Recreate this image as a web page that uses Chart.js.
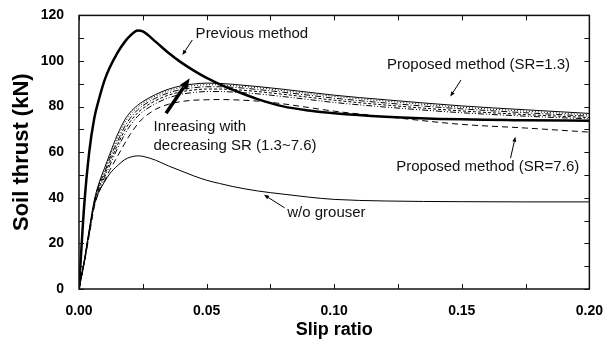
<!DOCTYPE html>
<html>
<head>
<meta charset="utf-8">
<script src="https://cdn.jsdelivr.net/npm/chart.js@4"></script>
<style>
  body { margin: 0; background: #fff; }
  canvas { display: block; }
</style>
</head>
<body>
<canvas id="chart" width="609" height="341"></canvas>
<script>
// slip ratio sample points shared by every curve
const slip = [0, 0.002, 0.004, 0.006, 0.008, 0.01, 0.012, 0.015, 0.018, 0.02, 0.023, 0.025, 0.03, 0.035,
    0.04, 0.045, 0.05, 0.055, 0.06, 0.07, 0.08, 0.09, 0.1, 0.12, 0.15, 0.175, 0.2];

// soil thrust (kN)
const previousMethod = [0, 36, 60, 75, 84, 91.5, 97, 103.5, 108.5, 111, 113.4, 113, 108.5, 103.6,
    99.4, 95.8, 92.6, 89.9, 87.5, 83.3, 80.1, 78.3, 77.1, 75.6, 74.4, 74, 73.8];
const sr13 = [0, 12, 26, 39, 47, 53, 59, 67.5, 74.3, 77.4, 80.6, 82.2, 85.3, 87.6,
    89.1, 89.9, 90.3, 90.2, 89.8, 88.8, 87.6, 86.3, 85, 83, 80.3, 78.6, 77];
const sr25 = [0, 12, 25.5, 38.5, 46.5, 52, 58, 66, 73, 76.3, 79.7, 81.4, 84.6, 86.9,
    88.4, 89.2, 89.6, 89.5, 89.2, 88.3, 87, 85.7, 84.5, 82.4, 79.7, 78, 76.4];
const sr38 = [0, 11.5, 25, 38, 46, 51, 57, 64.5, 71.4, 74.8, 78.6, 80.4, 83.7, 86,
    87.5, 88.3, 88.7, 88.7, 88.5, 87.5, 86.3, 85, 83.7, 81.6, 79, 77.3, 75.8];
const sr50 = [0, 11.5, 24.5, 37.5, 45, 50, 55.5, 63, 69.8, 73.3, 77.3, 79.2, 82.6, 85,
    86.5, 87.3, 87.7, 87.7, 87.5, 86.6, 85.4, 84.1, 82.8, 80.7, 78.1, 76.5, 75.2];
const sr63 = [0, 11, 24, 37, 44, 49, 54, 61.5, 68, 71.6, 75.8, 77.8, 81.3, 83.8,
    85.4, 86.2, 86.6, 86.6, 86.4, 85.6, 84.4, 83.1, 81.8, 79.8, 77.3, 75.8, 74.6];
const sr76 = [0, 11, 23.5, 36, 43, 47.5, 52, 58, 64, 67.7, 72.4, 74.8, 78.8, 81,
    82.2, 82.8, 83, 83.1, 83, 82.4, 81.2, 79.6, 78, 75.6, 72.2, 70.6, 68.8];
const withoutGrouser = [0, 12, 25.5, 37, 43, 47, 50.5, 54, 56.8, 57.8, 58.4, 58.2, 56.5, 54,
    51.8, 49.6, 47.7, 46.3, 45, 43, 41.6, 40.3, 39.3, 38.6, 38.3, 38.2, 38.2];

const xTicks = [0, 0.05, 0.1, 0.15, 0.2];
const yTicks = [0, 20, 40, 60, 80, 100, 120];

const FONT = '"Liberation Sans", Arial, sans-serif';

const series = (values) => slip.map((x, i) => ({ x, y: values[i] }));

const line = (label, values, width, dash) => ({
    label,
    data: series(values),
    borderColor: '#000',
    borderWidth: width,
    borderDash: dash,
    pointRadius: 0,
    fill: false,
    cubicInterpolationMode: 'monotone',
});

// labels and arrows, in data units
const notes = [
    { text: 'Previous method', x: 0.0457, y: 112.1 },
    { text: 'Proposed method (SR=1.3)', x: 0.1207, y: 98.3 },
    { text: 'Proposed method (SR=7.6)', x: 0.1243, y: 53.7 },
    { text: 'Inreasing with', x: 0.0292, y: 71.2 },
    { text: 'decreasing SR (1.3~7.6)', x: 0.0292, y: 62.9 },
    { text: 'w/o grouser', x: 0.0816, y: 33.3 },
];
const arrows = [
    { from: [0.0444, 109.2], to: [0.0405, 102.6], width: 1, head: 5 },
    { from: [0.1497, 91.7], to: [0.1455, 84.4], width: 1, head: 5 },
    { from: [0.1691, 57.4], to: [0.171, 66.8], width: 1, head: 5 },
    { from: [0.0806, 35.6], to: [0.0725, 41.3], width: 1, head: 5 },
    { from: [0.0341, 77.1], to: [0.0434, 92.4], width: 3.5, head: 11 },
];

const drawArrow = (ctx, x1, y1, x2, y2, width, head) => {
    const ang = Math.atan2(y2 - y1, x2 - x1);
    const bx = x2 - head * Math.cos(ang);
    const by = y2 - head * Math.sin(ang);
    ctx.lineWidth = width;
    ctx.beginPath();
    ctx.moveTo(x1, y1);
    ctx.lineTo(bx, by);
    ctx.stroke();
    const hw = Math.max(2, head * 0.4);
    ctx.beginPath();
    ctx.moveTo(x2, y2);
    ctx.lineTo(bx + hw * Math.sin(ang), by - hw * Math.cos(ang));
    ctx.lineTo(bx - hw * Math.sin(ang), by + hw * Math.cos(ang));
    ctx.closePath();
    ctx.fill();
};

const framePlugin = {
    id: 'frame',
    afterDatasetsDraw(chart) {
        const { ctx, chartArea: a, scales: { x, y } } = chart;
        ctx.save();
        ctx.strokeStyle = '#111';
        ctx.fillStyle = '#000';

        // inward ticks on all four sides
        ctx.lineWidth = 1;
        ctx.beginPath();
        for (let v = 0; v <= 0.2001; v += 0.025) {
            const px = Math.round(x.getPixelForValue(v)) + 0.5;
            ctx.moveTo(px, a.bottom); ctx.lineTo(px, a.bottom - 5);
            ctx.moveTo(px, a.top); ctx.lineTo(px, a.top + 5);
        }
        for (let v = 0; v <= 120; v += 10) {
            const py = Math.round(y.getPixelForValue(v)) + 0.5;
            ctx.moveTo(a.left, py); ctx.lineTo(a.left + 5, py);
            ctx.moveTo(a.right, py); ctx.lineTo(a.right - 5, py);
        }
        ctx.stroke();

        ctx.lineWidth = 1.5;
        ctx.strokeRect(a.left, a.top, a.right - a.left, a.bottom - a.top);

        // annotations
        ctx.font = '15px ' + FONT;
        ctx.textBaseline = 'middle';
        ctx.textAlign = 'left';
        ctx.fillStyle = '#111';
        notes.forEach((n) => {
            ctx.fillText(n.text, x.getPixelForValue(n.x), y.getPixelForValue(n.y));
        });
        ctx.strokeStyle = '#000';
        ctx.fillStyle = '#000';
        arrows.forEach((r) => {
            drawArrow(ctx,
                x.getPixelForValue(r.from[0]), y.getPixelForValue(r.from[1]),
                x.getPixelForValue(r.to[0]), y.getPixelForValue(r.to[1]),
                r.width, r.head);
        });
        ctx.restore();
    },
};

new Chart(document.getElementById('chart'), {
    type: 'line',
    data: {
        datasets: [
            line('Previous method', previousMethod, 2.5, []),
            line('SR=1.3', sr13, 1, []),
            line('SR=2.5', sr25, 1, [1, 2]),
            line('SR=3.8', sr38, 1, [6, 2, 1, 2]),
            line('SR=5.0', sr50, 1, [3, 2]),
            line('SR=6.3', sr63, 1, [6, 2, 1, 2, 1, 2]),
            line('SR=7.6', sr76, 1, [6, 4]),
            line('w/o grouser', withoutGrouser, 1, []),
        ],
    },
    options: {
        responsive: false,
        animation: false,
        devicePixelRatio: 1,
        layout: { padding: { top: 15, right: 15, left: 0, bottom: 0 } },
        plugins: { legend: { display: false }, tooltip: { enabled: false } },
        scales: {
            x: {
                type: 'linear',
                min: 0,
                max: 0.2,
                afterBuildTicks: (s) => { s.ticks = xTicks.map((value) => ({ value })); },
                afterFit: (s) => { s.height = 52; },
                grid: { display: false },
                border: { display: false },
                ticks: {
                    padding: 6,
                    color: '#000',
                    maxRotation: 0,
                    font: { family: FONT, size: 14, weight: 'bold' },
                    callback: (v) => Number(v).toFixed(2),
                },
                title: {
                    display: true,
                    text: 'Slip ratio',
                    color: '#000',
                    padding: { top: 0, bottom: 0 },
                    font: { family: FONT, size: 18, weight: 'bold', lineHeight: 1.2 },
                },
            },
            y: {
                min: 0,
                max: 120,
                afterBuildTicks: (s) => { s.ticks = yTicks.map((value) => ({ value })); },
                afterFit: (s) => { s.width = 79; },
                grid: { display: false },
                border: { display: false },
                ticks: {
                    padding: 7,
                    color: '#000',
                    font: { family: FONT, size: 14, weight: 'bold' },
                },
                title: {
                    display: true,
                    text: 'Soil thrust (kN)',
                    color: '#000',
                    padding: { top: 9, bottom: 0 },
                    font: { family: FONT, size: 22, weight: 'bold', lineHeight: 1.2 },
                },
            },
        },
    },
    plugins: [framePlugin],
});
</script>
</body>
</html>
